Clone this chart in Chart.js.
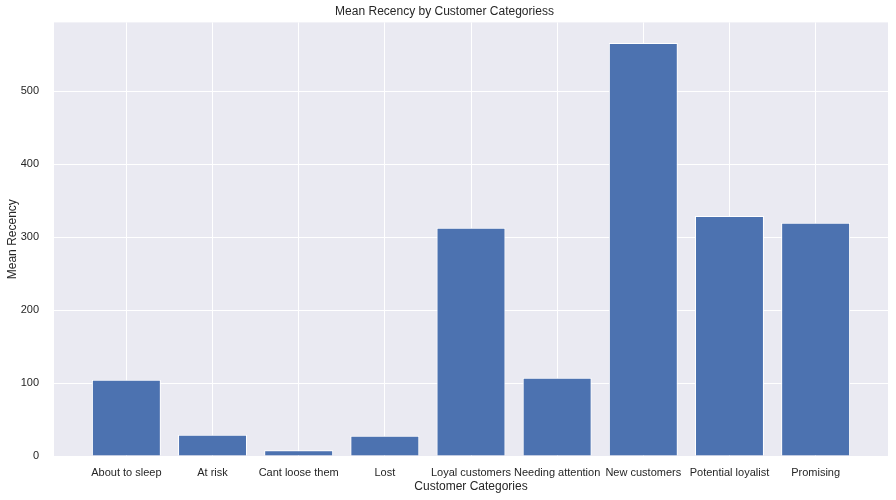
<!DOCTYPE html>
<html>
<head>
<meta charset="utf-8">
<script src="https://cdn.jsdelivr.net/npm/chart.js@4"></script>
<style>
html,body{margin:0;padding:0;background:#fff;}
#wrap{width:896px;height:500px;}
</style>
</head>
<body>
<div id="wrap"><canvas id="c" width="896" height="500"></canvas></div>
<script>
const categories = ["About to sleep","At risk","Cant loose them","Lost","Loyal customers","Needing attention","New customers","Potential loyalist","Promising"];
const meanRecency = [104.5, 29.2, 7.8, 27.8, 312.7, 107.3, 566.0, 329.0, 319.6];
const yTicks = [0, 100, 200, 300, 400, 500];

const FONT = "'Liberation Sans', Arial, sans-serif";
const TXT = '#262626';

const bgPlugin = {
  id: 'bg',
  beforeDraw(chart) {
    const a = chart.chartArea, ctx = chart.ctx;
    ctx.save();
    ctx.fillStyle = '#EAEAF2';
    ctx.fillRect(a.left, a.top, a.right - a.left, a.bottom - a.top);
    ctx.restore();
  }
};

new Chart(document.getElementById('c'), {
  type: 'bar',
  data: {
    datasets: [{
      data: categories.map((c, i) => ({x: i, y: meanRecency[i]})),
      backgroundColor: '#4C72B0',
      borderColor: '#ffffff',
      borderWidth: 1,
      barPercentage: 0.8,
      categoryPercentage: 1.0
    }]
  },
  options: {
    responsive: false,
    animation: false,
    events: [],
    layout: {padding: {left: 1, right: 8, top: 0, bottom: 0}},
    plugins: {
      legend: {display: false},
      tooltip: {enabled: false},
      title: {
        display: true,
        text: 'Mean Recency by Customer Categoriess',
        color: TXT,
        font: {family: FONT, size: 12, weight: 'normal'},
        padding: {top: 4, bottom: 4}
      }
    },
    scales: {
      x: {
        type: 'linear',
        min: -0.84,
        max: 8.84,
        offset: false,
        grid: {color: '#ffffff', lineWidth: 1, drawTicks: false, offset: false},
        border: {display: false},
        afterBuildTicks(scale) { scale.ticks = categories.map((c, i) => ({value: i})); },
        afterFit(scale) { scale.height = 44; },
        ticks: {
          autoSkip: false, maxRotation: 0, minRotation: 0, includeBounds: false,
          padding: 10, color: TXT, font: {family: FONT, size: 11},
          callback: (v) => categories[v]
        },
        title: {display: true, text: 'Customer Categories', color: TXT,
          font: {family: FONT, size: 12}, padding: {top: 2, bottom: 6}}
      },
      y: {
        min: 0,
        max: 594.3,
        grid: {color: '#ffffff', lineWidth: 1, drawTicks: false},
        border: {display: false},
        afterBuildTicks(scale) { scale.ticks = yTicks.map(v => ({value: v})); },
        afterFit(scale) { scale.width = 53; },
        ticks: {includeBounds: false, padding: 15, color: TXT, font: {family: FONT, size: 11}},
        title: {display: true, text: 'Mean Recency', color: TXT,
          font: {family: FONT, size: 12}, padding: {top: 4, bottom: 4}}
      }
    }
  },
  plugins: [bgPlugin]
});
</script>
</body>
</html>
